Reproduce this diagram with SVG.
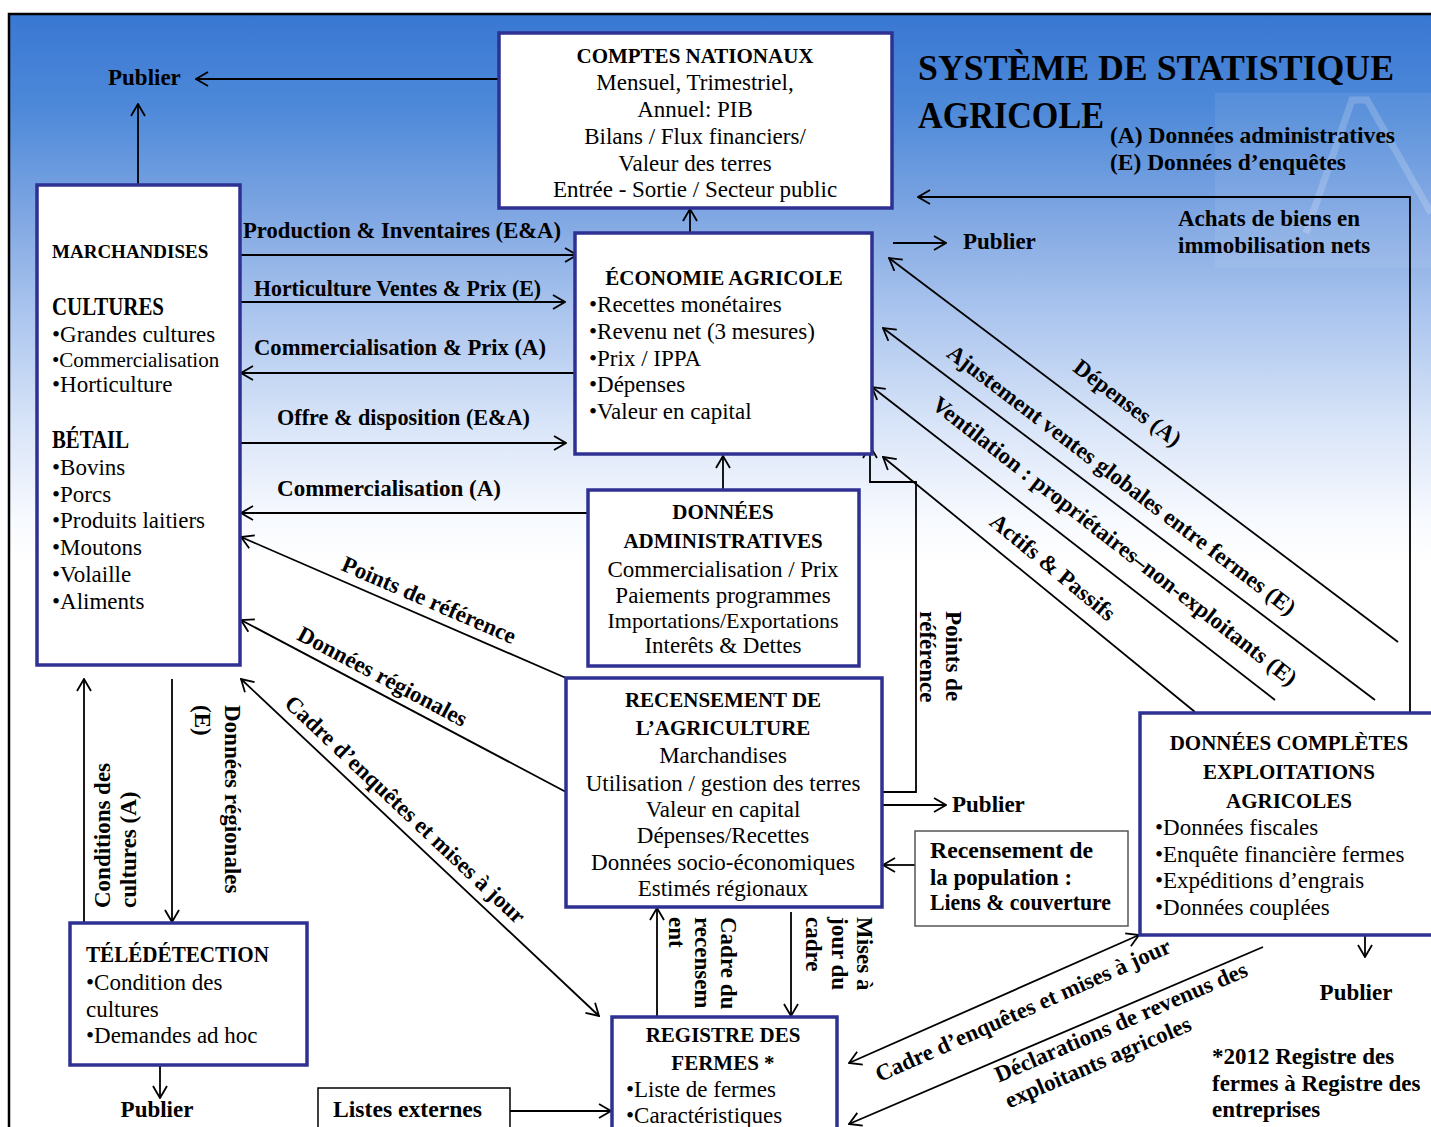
<svg xmlns="http://www.w3.org/2000/svg" width="1431" height="1127" viewBox="0 0 1431 1127">
<defs>
<linearGradient id="bg" gradientUnits="userSpaceOnUse" x1="0" y1="13" x2="0" y2="560">
<stop offset="0" stop-color="#3877d3"/>
<stop offset="0.18" stop-color="#4f8ad9"/>
<stop offset="0.36" stop-color="#7da5e2"/>
<stop offset="0.55" stop-color="#abc5ee"/>
<stop offset="0.75" stop-color="#d8e4f8"/>
<stop offset="0.92" stop-color="#f6f9fe"/>
<stop offset="1" stop-color="#ffffff"/>
</linearGradient>
<marker id="ah" viewBox="0 0 14 16" refX="13" refY="8" markerWidth="14" markerHeight="16" markerUnits="userSpaceOnUse" orient="auto-start-reverse">
<path d="M1,1 L13,8 L1,15" fill="none" stroke="#000" stroke-width="1.8"/>
</marker>
<style>
.box{fill:#fff;stroke:#2e3192;stroke-width:3.5}
.tb{fill:#fff;stroke:#000;stroke-width:1.5}
.gb{fill:#fff;stroke:#555;stroke-width:1.5}
text{font-family:"Liberation Serif","DejaVu Serif",serif;fill:#000}
.b{font-weight:bold}
.c{text-anchor:middle}
.r{font-size:23px}
.s{font-size:21px}
.h{font-size:21px;font-weight:bold}
.l{font-size:23px;font-weight:bold}
.ln{stroke:#000;stroke-width:1.8;fill:none;marker-end:url(#ah)}
.ln2{stroke:#000;stroke-width:1.8;fill:none;marker-start:url(#ah);marker-end:url(#ah)}
</style>
</defs>
<rect x="0" y="0" width="1431" height="1127" fill="#fff"/>
<rect x="9" y="14" width="1440" height="1130" fill="url(#bg)" stroke="#000" stroke-width="2.5"/>
<g opacity="0.07" fill="#fff">
<rect x="1215" y="93" width="216" height="175"/>
<rect x="1250" y="93" width="3" height="175"/>
<rect x="1300" y="93" width="3" height="175"/>
<rect x="1350" y="93" width="3" height="175"/>
<rect x="1400" y="93" width="3" height="175"/>
</g>
<path d="M1306,233 L1352,100 L1367,100 L1431,213" fill="none" stroke="#fff" stroke-opacity="0.18" stroke-width="7"/>

<g id="title">
<text x="918" y="80" class="b" font-size="36" textLength="476" lengthAdjust="spacingAndGlyphs">SYSTÈME DE STATISTIQUE</text>
<text x="918" y="128" class="b" font-size="38" textLength="186" lengthAdjust="spacingAndGlyphs">AGRICOLE</text>
<text x="1110" y="143" class="l" font-size="22" textLength="285" lengthAdjust="spacingAndGlyphs">(A) Données administratives</text>
<text x="1110" y="170" class="l" font-size="22" textLength="236" lengthAdjust="spacingAndGlyphs">(E) Données d’enquêtes</text>
</g>

<g id="connectors">
<line class="ln" x1="498" y1="79" x2="196" y2="79"/>
<line class="ln" x1="138" y1="185" x2="138" y2="104"/>
<line class="ln" x1="690" y1="232" x2="690" y2="209"/>
<line class="ln" x1="893" y1="243" x2="946" y2="243"/>
<polyline class="ln" points="1410,713 1410,197 918,197"/>
<line class="ln" x1="240" y1="255" x2="577" y2="255"/>
<line class="ln" x1="240" y1="302" x2="565" y2="302"/>
<line class="ln" x1="575" y1="373" x2="241" y2="373"/>
<line class="ln" x1="240" y1="443" x2="566" y2="443"/>
<line class="ln" x1="588" y1="513" x2="241" y2="513"/>
<line class="ln" x1="723" y1="490" x2="723" y2="456"/>
<line class="ln" x1="566" y1="678" x2="241" y2="537"/>
<line class="ln" x1="566" y1="792" x2="241" y2="620"/>
<line class="ln2" x1="241" y1="679" x2="599" y2="1016"/>
<line class="ln" x1="84" y1="922" x2="84" y2="679"/>
<line class="ln" x1="172" y1="679" x2="172" y2="922"/>
<line class="ln" x1="160" y1="1065" x2="160" y2="1098"/>
<line class="ln" x1="510" y1="1111" x2="611" y2="1111"/>
<polyline class="ln" points="882,792 916,792 916,482 870,482 870,446"/>
<line class="ln" x1="882" y1="805" x2="946" y2="805"/>
<line class="ln" x1="915" y1="865" x2="883" y2="865"/>
<line class="ln" x1="657" y1="1017" x2="657" y2="908"/>
<line class="ln" x1="791" y1="912" x2="791" y2="1016"/>
<line class="ln" x1="1398" y1="642" x2="889" y2="258"/>
<line class="ln" x1="1375" y1="700" x2="883" y2="328"/>
<line class="ln" x1="1275" y1="700" x2="872" y2="387"/>
<line class="ln" x1="1195" y1="712" x2="883" y2="457"/>
<line class="ln2" x1="849" y1="1063" x2="1139" y2="935"/>
<line class="ln" x1="1263" y1="947" x2="849" y2="1124"/>
<line class="ln" x1="1365" y1="913" x2="1365" y2="957"/>
</g>

<g id="labels">
<text x="108" y="85" class="l">Publier</text>
<text x="963" y="249" class="l">Publier</text>
<text x="952" y="812" class="l">Publier</text>
<text x="157" y="1117" class="l c">Publier</text>
<text x="1356" y="1000" class="l c">Publier</text>
<text x="1178" y="226" class="l">Achats de biens en</text>
<text x="1178" y="253" class="l">immobilisation nets</text>
<text x="243" y="238" class="l" textLength="318" lengthAdjust="spacingAndGlyphs">Production &amp; Inventaires (E&amp;A)</text>
<text x="254" y="296" class="l" textLength="287" lengthAdjust="spacingAndGlyphs">Horticulture Ventes &amp; Prix (E)</text>
<text x="254" y="355" class="l" textLength="292" lengthAdjust="spacingAndGlyphs">Commercialisation &amp; Prix (A)</text>
<text x="277" y="425" class="l" textLength="253" lengthAdjust="spacingAndGlyphs">Offre &amp; disposition (E&amp;A)</text>
<text x="277" y="496" class="l" textLength="224" lengthAdjust="spacingAndGlyphs">Commercialisation (A)</text>
<text class="l c" transform="translate(426,607) rotate(23.4)">Points de référence</text>
<text class="l c" transform="translate(379,683) rotate(27.9)">Données régionales</text>
<text class="l c" transform="translate(400,815) rotate(43.3)">Cadre d’enquêtes et mises à jour</text>
<text class="l" transform="translate(110,908) rotate(-90)">Conditions des</text>
<text class="l" transform="translate(136,908) rotate(-90)">cultures  (A)</text>
<text class="l" transform="translate(225,705) rotate(90)">Données régionales</text>
<text class="l" transform="translate(195,705) rotate(90)">(E)</text>
<text class="l" transform="translate(946,611) rotate(90)">Points de</text>
<text class="l" transform="translate(920,611) rotate(90)">référence</text>
<text class="l" transform="translate(721,917) rotate(90)">Cadre du</text>
<text class="l" transform="translate(695,917) rotate(90)">recensem</text>
<text class="l" transform="translate(669,917) rotate(90)">ent</text>
<text class="l" transform="translate(857,917) rotate(90)">Mises à</text>
<text class="l" transform="translate(832,917) rotate(90)">jour du</text>
<text class="l" transform="translate(806,917) rotate(90)">cadre</text>
<text class="l c" transform="translate(1123,409) rotate(37.1)">Dépenses (A)</text>
<text class="l c" transform="translate(1117,486) rotate(37.2)">Ajustement ventes globales entre fermes (E)</text>
<text class="l c" transform="translate(1110,547) rotate(37.9)">Ventilation : propriétaires–non-exploitants (E)</text>
<text class="l c" transform="translate(1048,573) rotate(39.4)">Actifs &amp; Passifs</text>
<text class="l c" transform="translate(1026,1017) rotate(-24)">Cadre d’enquêtes et mises à jour</text>
<text class="l c" transform="translate(1124,1029) rotate(-23.2)">Déclarations de revenus des</text>
<text class="l c" transform="translate(1101,1069) rotate(-23.2)">exploitants agricoles</text>
<text x="1212" y="1064" class="l">*2012 Registre des</text>
<text x="1212" y="1091" class="l">fermes à Registre des</text>
<text x="1212" y="1117" class="l">entreprises</text>
</g>

<g id="comptes-nationaux">
<rect class="box" x="499" y="33" width="393" height="175"/>
<text x="695" y="63" class="h c">COMPTES NATIONAUX</text>
<text x="695" y="90" class="r c">Mensuel, Trimestriel,</text>
<text x="695" y="117" class="r c">Annuel: PIB</text>
<text x="695" y="144" class="r c">Bilans / Flux financiers/</text>
<text x="695" y="171" class="r c">Valeur des terres</text>
<text x="695" y="197" class="r c">Entrée - Sortie / Secteur public</text>
</g>

<g id="economie-agricole">
<rect class="box" x="575" y="233" width="297" height="221"/>
<text x="724" y="285" class="h c">ÉCONOMIE AGRICOLE</text>
<text x="589" y="312" class="r">•Recettes monétaires</text>
<text x="589" y="339" class="r">•Revenu net (3 mesures)</text>
<text x="589" y="366" class="r">•Prix / IPPA</text>
<text x="589" y="392" class="r">•Dépenses</text>
<text x="589" y="419" class="r">•Valeur en capital</text>
</g>

<g id="marchandises">
<rect class="box" x="37" y="185" width="203" height="480"/>
<text x="52" y="258" class="b" font-size="19">MARCHANDISES</text>
<text x="52" y="315" class="b" font-size="25" textLength="112" lengthAdjust="spacingAndGlyphs">CULTURES</text>
<text x="52" y="342" class="r">•Grandes cultures</text>
<text x="52" y="367" class="s">•Commercialisation</text>
<text x="52" y="392" class="r">•Horticulture</text>
<text x="52" y="448" class="b" font-size="25" textLength="77" lengthAdjust="spacingAndGlyphs">BÉTAIL</text>
<text x="52" y="475" class="r">•Bovins</text>
<text x="52" y="502" class="r">•Porcs</text>
<text x="52" y="528" class="r">•Produits laitiers</text>
<text x="52" y="555" class="r">•Moutons</text>
<text x="52" y="582" class="r">•Volaille</text>
<text x="52" y="609" class="r">•Aliments</text>
</g>

<g id="donnees-administratives">
<rect class="box" x="588" y="490" width="271" height="176"/>
<text x="723" y="519" class="h c">DONNÉES</text>
<text x="723" y="548" class="h c">ADMINISTRATIVES</text>
<text x="723" y="577" class="r c">Commercialisation / Prix</text>
<text x="723" y="603" class="r c">Paiements programmes</text>
<text x="723" y="628" class="c" font-size="22">Importations/Exportations</text>
<text x="723" y="653" class="r c">Interêts &amp; Dettes</text>
</g>

<g id="recensement-agriculture">
<rect class="box" x="566" y="678" width="316" height="229"/>
<text x="723" y="707" class="h c">RECENSEMENT DE</text>
<text x="723" y="735" class="h c">L’AGRICULTURE</text>
<text x="723" y="763" class="r c">Marchandises</text>
<text x="723" y="791" class="r c">Utilisation / gestion des terres</text>
<text x="723" y="817" class="r c">Valeur en capital</text>
<text x="723" y="843" class="r c">Dépenses/Recettes</text>
<text x="723" y="870" class="r c">Données socio-économiques</text>
<text x="723" y="896" class="r c">Estimés régionaux</text>
</g>

<g id="recensement-population">
<rect class="gb" x="915" y="831" width="213" height="95"/>
<text x="930" y="858" class="l" font-size="22" textLength="163" lengthAdjust="spacingAndGlyphs">Recensement de</text>
<text x="930" y="885" class="l" font-size="22" textLength="142" lengthAdjust="spacingAndGlyphs">la population :</text>
<text x="930" y="910" class="l" font-size="22" textLength="181" lengthAdjust="spacingAndGlyphs">Liens &amp; couverture</text>
</g>

<g id="donnees-completes">
<rect class="box" x="1140" y="713" width="320" height="222"/>
<text x="1289" y="750" class="h c">DONNÉES COMPLÈTES</text>
<text x="1289" y="779" class="h c">EXPLOITATIONS</text>
<text x="1289" y="808" class="h c">AGRICOLES</text>
<text x="1155" y="835" class="r">•Données fiscales</text>
<text x="1155" y="862" class="r">•Enquête financière fermes</text>
<text x="1155" y="888" class="r">•Expéditions d’engrais</text>
<text x="1155" y="915" class="r">•Données couplées</text>
</g>

<g id="teledetection">
<rect class="box" x="70" y="923" width="237" height="142"/>
<text x="86" y="962" class="b" font-size="24" textLength="183" lengthAdjust="spacingAndGlyphs">TÉLÉDÉTECTION</text>
<text x="86" y="990" class="r">•Condition des</text>
<text x="86" y="1017" class="r">cultures</text>
<text x="86" y="1043" class="r">•Demandes ad hoc</text>
</g>

<g id="listes-externes">
<rect class="tb" x="318" y="1088" width="192" height="60"/>
<text x="333" y="1117" class="l" font-size="22" textLength="149" lengthAdjust="spacingAndGlyphs">Listes externes</text>
</g>

<g id="registre-fermes">
<rect class="box" x="612" y="1017" width="225" height="130"/>
<text x="723" y="1042" class="h c">REGISTRE DES</text>
<text x="723" y="1070" class="h c">FERMES *</text>
<text x="626" y="1097" class="r">•Liste de fermes</text>
<text x="626" y="1123" class="r">•Caractéristiques</text>
</g>
</svg>
